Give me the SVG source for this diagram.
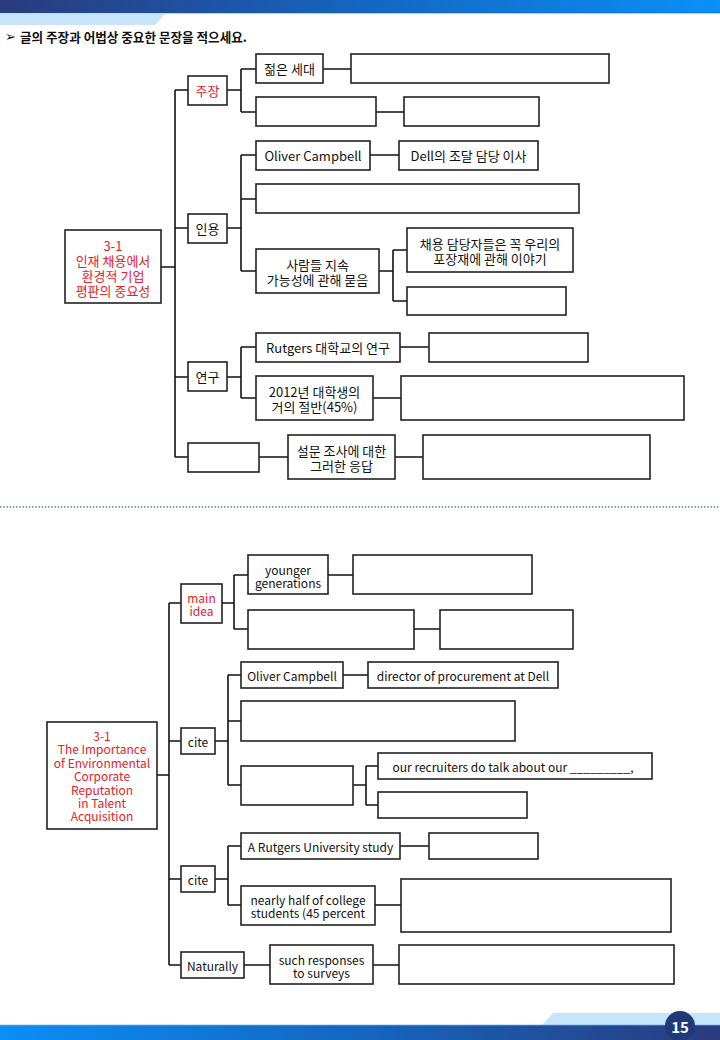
<svg xmlns="http://www.w3.org/2000/svg" width="720" height="1040" viewBox="0 0 720 1040">
<defs>
<linearGradient id="gTop" x1="0" y1="0" x2="1" y2="0">
<stop offset="0" stop-color="#2b3a7d"/>
<stop offset="0.5" stop-color="#1466c0"/>
<stop offset="1" stop-color="#0a90f8"/>
</linearGradient>
<linearGradient id="gBot" x1="0" y1="0" x2="1" y2="0">
<stop offset="0" stop-color="#0b8ef5"/>
<stop offset="0.5" stop-color="#1566c0"/>
<stop offset="1" stop-color="#2b3a7d"/>
</linearGradient>
<style>
.b{fill:#fff;stroke:#222;stroke-width:1.6}
.t{font-family:"Noto Sans CJK KR","Noto Sans",sans-serif;font-size:13px;fill:#111;text-anchor:middle;dominant-baseline:central}
.s{font-size:12px}
.r{fill:#e62129}
.c path{fill:none;stroke:#111;stroke-width:1.6}
</style>
</defs>
<rect width="720" height="1040" fill="#fff"/>
<!-- header -->
<rect x="0" y="0" width="720" height="13" fill="url(#gTop)"/>
<rect x="0" y="12.5" width="720" height="1" fill="#1a5aa8" opacity="0.6"/>
<polygon points="0,13.5 165,13.5 155,25 0,25" fill="#c6e5fa"/>
<text x="5" y="36" font-family="DejaVu Sans,sans-serif" font-size="13" fill="#111" dominant-baseline="central">➢</text>
<text x="20" y="36" font-family="Noto Sans CJK KR,sans-serif" font-size="12.6" font-weight="bold" fill="#111" dominant-baseline="central">글의 주장과 어법상 중요한 문장을 적으세요.</text>
<!-- footer -->
<polygon points="553,1013 720,1013 720,1025 542,1025" fill="#c6e5fa"/>
<rect x="0" y="1025" width="720" height="15" fill="url(#gBot)"/>
<rect x="0" y="1024.5" width="720" height="1" fill="#6fb6ee" opacity="0.7"/>
<circle cx="680" cy="1026" r="15" fill="#1e3a78"/>
<text x="680" y="1026" font-family="Noto Sans CJK KR,sans-serif" font-size="15" font-weight="bold" fill="#fff" text-anchor="middle" dominant-baseline="central">15</text>
<!-- separator -->
<line x1="0" y1="507" x2="720" y2="507" stroke="#5e90b4" stroke-width="1.6" stroke-dasharray="1.6 1.6"/>

<g id="connectors" class="c">
<path d="M161 267H175M175 90V457M175 90H188M175 228H188M175 377H188M175 457H188"/>
<path d="M227 90H241M241 69V112M241 69H256M241 112H256M323 69H351M376 112H404"/>
<path d="M227 228H241M241 155V271M241 155H256M241 199H256M241 271H256M370 155H399"/>
<path d="M379 271H393M393 250V301M393 250H407M393 301H407"/>
<path d="M227 377H241M241 347V398M241 347H256M241 398H256M400 347H429M373 398H401"/>
<path d="M259 457H288M395 457H423"/>
<path d="M157 775H169M169 603V965M169 603H181M169 741H181M169 879H181M169 965H181"/>
<path d="M222 603H234M234 575V629M234 575H248M234 629H248M328 575H353M414 629H440"/>
<path d="M215 741H228M228 675V785M228 675H241M228 721H241M228 785H241M343 675H368"/>
<path d="M353 785H366M366 766V805M366 766H378M366 805H378"/>
<path d="M215 879H228M228 846V905M228 846H241M228 905H241M400 846H429M375 905H401"/>
<path d="M244 965H270M373 965H399"/>
</g>

<!-- top section -->
<g id="k-root"><rect class="b" x="65" y="230" width="96" height="73"/>
<text class="t r" x="113"><tspan x="113" y="244.5">3-1</tspan><tspan x="113" y="259.5">인재 채용에서</tspan><tspan x="113" y="274.5">환경적 기업</tspan><tspan x="113" y="289.5">평판의 중요성</tspan></text></g>
<g id="k-claim"><rect class="b" x="188" y="76" width="39" height="29"/><text class="t r" x="207.5" y="90.5">주장</text></g>
<g id="k-young"><rect class="b" x="256" y="54" width="67" height="29"/><text class="t" x="289.5" y="68.5">젊은 세대</text></g>
<g id="k-young-blank"><rect class="b" x="351" y="54" width="258" height="29"/></g>
<g id="k-claim2"><rect class="b" x="256" y="97" width="120" height="29"/></g>
<g id="k-claim2-blank"><rect class="b" x="404" y="97" width="135" height="29"/></g>
<g id="k-cite"><rect class="b" x="188" y="214" width="39" height="29"/><text class="t" x="207.5" y="228.5">인용</text></g>
<g id="k-oliver"><rect class="b" x="256" y="141" width="114" height="29"/><text class="t" x="313" y="155.5">Oliver Campbell</text></g>
<g id="k-dell"><rect class="b" x="399" y="141" width="139" height="29"/><text class="t" x="468.5" y="155.5">Dell의 조달 담당 이사</text></g>
<g id="k-cite-blank"><rect class="b" x="256" y="184" width="323" height="29"/></g>
<g id="k-ask"><rect class="b" x="256" y="249" width="123" height="44"/>
<text class="t"><tspan x="317.5" y="264">사람들 지속</tspan><tspan x="317.5" y="279">가능성에 관해 묻음</tspan></text></g>
<g id="k-recruit"><rect class="b" x="407" y="228" width="166" height="44"/>
<text class="t"><tspan x="490" y="242.5">채용 담당자들은 꼭 우리의</tspan><tspan x="490" y="257.5">포장재에 관해 이야기</tspan></text></g>
<g id="k-recruit-blank"><rect class="b" x="407" y="287" width="159" height="28"/></g>
<g id="k-study"><rect class="b" x="188" y="362" width="39" height="29"/><text class="t" x="207.5" y="376.5">연구</text></g>
<g id="k-rutgers"><rect class="b" x="256" y="333" width="144" height="29"/><text class="t" x="328" y="347.5">Rutgers 대학교의 연구</text></g>
<g id="k-rutgers-blank"><rect class="b" x="429" y="333" width="159" height="29"/></g>
<g id="k-2012"><rect class="b" x="256" y="376" width="117" height="44"/>
<text class="t"><tspan x="314.5" y="390.5">2012년 대학생의</tspan><tspan x="314.5" y="405.5">거의 절반(45%)</tspan></text></g>
<g id="k-2012-blank"><rect class="b" x="401" y="376" width="283" height="44"/></g>
<g id="k-last"><rect class="b" x="188" y="443" width="71" height="29"/></g>
<g id="k-survey"><rect class="b" x="288" y="435" width="107" height="44"/>
<text class="t"><tspan x="341.5" y="449.5">설문 조사에 대한</tspan><tspan x="341.5" y="464.5">그러한 응답</tspan></text></g>
<g id="k-survey-blank"><rect class="b" x="423" y="435" width="227" height="44"/></g>

<!-- bottom section -->
<g id="e-root"><rect class="b" x="47" y="722" width="110" height="107"/>
<text class="t s r"><tspan x="102" y="735">3-1</tspan><tspan x="102" y="748.4">The Importance</tspan><tspan x="102" y="761.8">of Environmental</tspan><tspan x="102" y="775.2">Corporate</tspan><tspan x="102" y="788.6">Reputation</tspan><tspan x="102" y="802">in Talent</tspan><tspan x="102" y="815.4">Acquisition</tspan></text></g>
<g id="e-main"><rect class="b" x="181" y="584" width="41" height="39"/>
<text class="t s r"><tspan x="201.5" y="597">main</tspan><tspan x="201.5" y="610">idea</tspan></text></g>
<g id="e-young"><rect class="b" x="248" y="555" width="80" height="39"/>
<text class="t s"><tspan x="288" y="568.5">younger</tspan><tspan x="288" y="581.5">generations</tspan></text></g>
<g id="e-young-blank"><rect class="b" x="353" y="555" width="179" height="39"/></g>
<g id="e-main2"><rect class="b" x="248" y="610" width="166" height="39"/></g>
<g id="e-main2-blank"><rect class="b" x="440" y="610" width="133" height="39"/></g>
<g id="e-cite1"><rect class="b" x="181" y="728" width="34" height="26"/><text class="t s" x="198" y="741">cite</text></g>
<g id="e-oliver"><rect class="b" x="241" y="662" width="102" height="26"/><text class="t s" x="292" y="675">Oliver Campbell</text></g>
<g id="e-director"><rect class="b" x="368" y="662" width="190" height="26"/><text class="t s" x="463" y="675">director of procurement at Dell</text></g>
<g id="e-cite-blank"><rect class="b" x="241" y="701" width="274" height="40"/></g>
<g id="e-ask"><rect class="b" x="241" y="766" width="112" height="39"/></g>
<g id="e-recruit"><rect class="b" x="378" y="753" width="274" height="26"/><text class="t s" x="513" y="766">our recruiters do talk about our _________,</text></g>
<g id="e-recruit-blank"><rect class="b" x="378" y="792" width="149" height="26"/></g>
<g id="e-cite2"><rect class="b" x="181" y="866" width="34" height="26"/><text class="t s" x="198" y="879">cite</text></g>
<g id="e-rutgers"><rect class="b" x="241" y="833" width="159" height="26"/><text class="t s" x="320.5" y="846">A Rutgers University study</text></g>
<g id="e-rutgers-blank"><rect class="b" x="429" y="833" width="109" height="26"/></g>
<g id="e-half"><rect class="b" x="241" y="886" width="134" height="39"/>
<text class="t s"><tspan x="308" y="899">nearly half of college</tspan><tspan x="308" y="912">students (45 percent</tspan></text></g>
<g id="e-half-blank"><rect class="b" x="401" y="879" width="270" height="53"/></g>
<g id="e-naturally"><rect class="b" x="181" y="952" width="63" height="26"/><text class="t s" x="212.5" y="965">Naturally</text></g>
<g id="e-survey"><rect class="b" x="270" y="945" width="103" height="39"/>
<text class="t s"><tspan x="321.5" y="958.5">such responses</tspan><tspan x="321.5" y="971.5">to surveys</tspan></text></g>
<g id="e-survey-blank"><rect class="b" x="399" y="945" width="275" height="39"/></g>
</svg>
